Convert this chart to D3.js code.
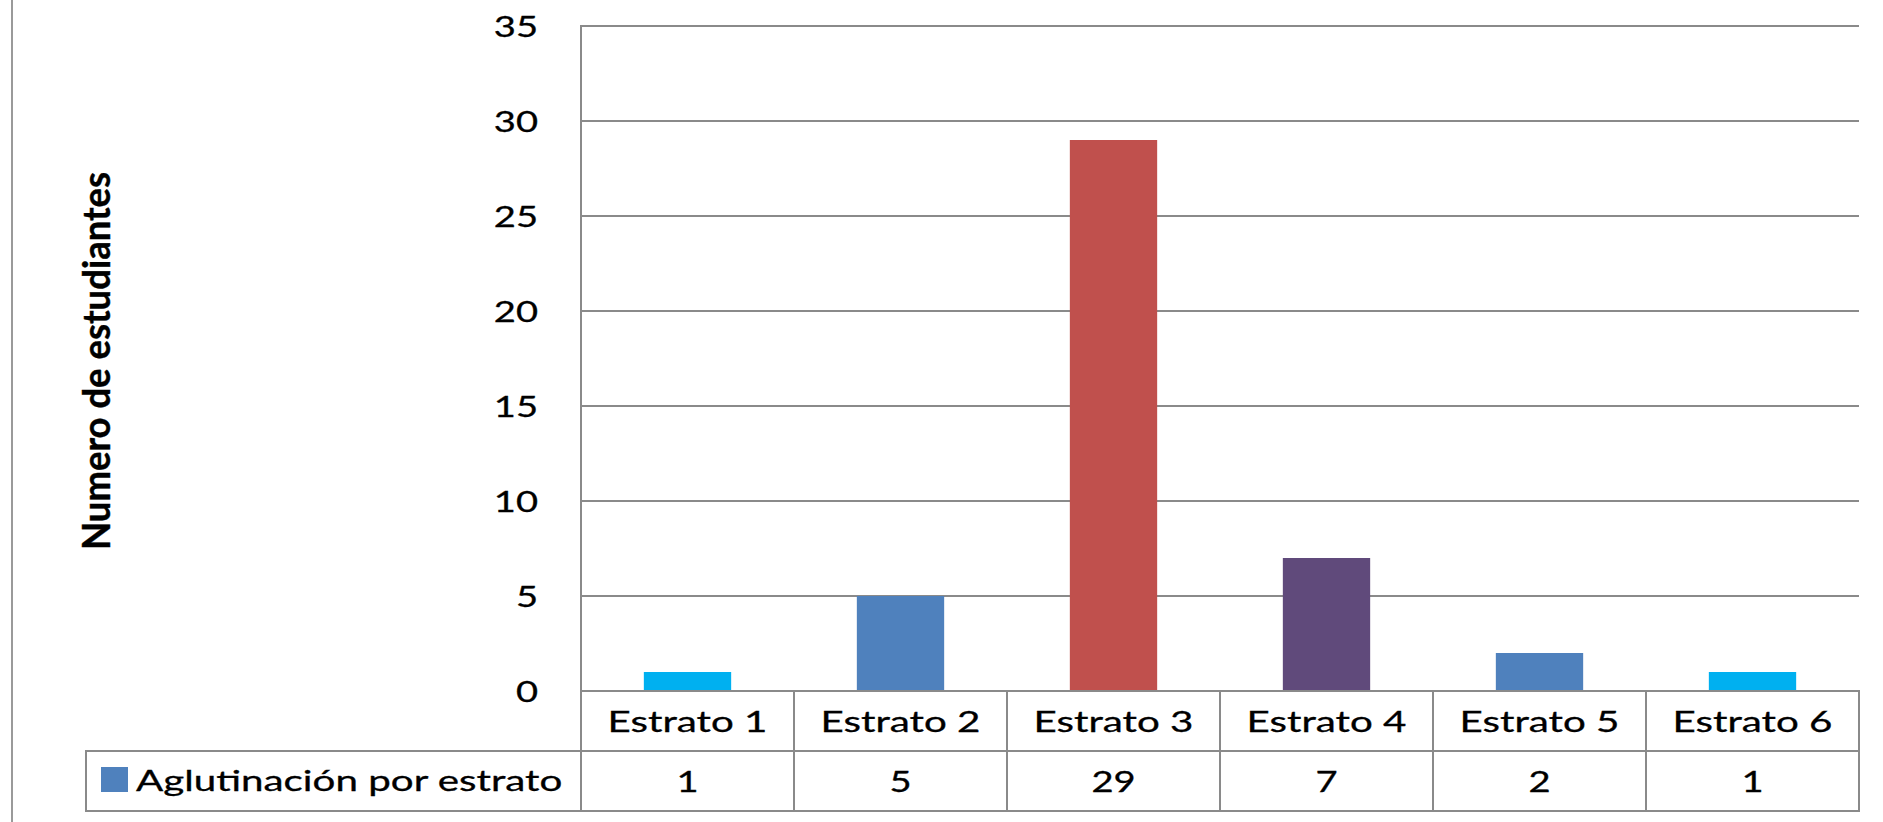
<!DOCTYPE html>
<html>
<head>
<meta charset="utf-8">
<script src="https://cdn.jsdelivr.net/npm/d3@7/dist/d3.min.js"></script>
<style>
  html, body { margin: 0; padding: 0; background: #ffffff; }
  svg { display: block; }
  text { font-family: Lato, "Open Sans", "DejaVu Sans", sans-serif; fill: #000; stroke: #000; stroke-width: 0.3px; }
</style>
</head>
<body>
<svg id="chart" width="1883" height="822"></svg>
<script>
// Students grouped by socio-economic stratum
const categories = ["Estrato 1", "Estrato 2", "Estrato 3", "Estrato 4", "Estrato 5", "Estrato 6"];
const values = [1, 5, 29, 7, 2, 1];
const seriesName = "Aglutinación por estrato";
const yTicks = [0, 5, 10, 15, 20, 25, 30, 35];
const yTitle = "Numero de estudiantes";

// fill per bar
const barColors = ["#00B0F0", "#4F81BD", "#C0504D", "#604A7B", "#4F81BD", "#00B0F0"];
const legendColor = "#4F81BD";

// layout
const plotLeft = 581, plotRight = 1859, plotTop = 26, plotBottom = 691;
const rowH = 60;
const tableLeft = 86;
const gridColor = "#8a8a8a";
const fontSize = 28;
const SX_NUM = 1.36;       // horizontal stretch for numbers
const SX = 1.44;           // horizontal stretch for words
const capHalf = 10;        // half cap height, used to centre text on a line

const svg = d3.select("#chart");

const x = d3.scaleBand().domain(categories).range([plotLeft, plotRight]).paddingInner(0.59).paddingOuter(0.295);
const cells = d3.scaleBand().domain(categories).range([plotLeft, plotRight]).padding(0);
const y = d3.scaleLinear().domain([0, 35]).range([plotBottom, plotTop]);

// outer chart frame (left edge)
svg.append("line")
  .attr("x1", 12).attr("x2", 12).attr("y1", 0).attr("y2", 822)
  .attr("stroke", "#9a9a9a").attr("stroke-width", 2);

// horizontal gridlines
svg.append("g").selectAll("line").data(yTicks.filter(d => d > 0)).join("line")
  .attr("x1", plotLeft).attr("x2", plotRight)
  .attr("y1", d => y(d)).attr("y2", d => y(d))
  .attr("stroke", gridColor).attr("stroke-width", 2);

// bars
svg.append("g").selectAll("rect").data(values).join("rect")
  .attr("x", (d, i) => x(categories[i]))
  .attr("width", x.bandwidth())
  .attr("y", d => y(d))
  .attr("height", d => y(0) - y(d))
  .attr("fill", (d, i) => barColors[i]);

// y axis tick labels
const yAxis = d3.axisLeft(y).tickValues(yTicks).tickSize(0).tickFormat(d3.format("d"));
const ag = svg.append("g").attr("transform", `translate(${plotLeft},0)`).call(yAxis);
ag.select(".domain").remove();
ag.selectAll(".tick text")
  .attr("x", null).attr("dy", null)
  .attr("y", capHalf)
  .attr("transform", `translate(-43,0) scale(${SX_NUM},1)`)
  .attr("text-anchor", "end")
  .attr("font-size", fontSize)
  .attr("font-family", null)
  .attr("fill", "#000");

// axis title
svg.append("text")
  .attr("transform", `translate(110,361) rotate(-90) scale(1,${SX_NUM})`)
  .attr("text-anchor", "middle")
  .attr("font-size", fontSize)
  .attr("font-weight", "bold")
  .attr("textLength", 378)
  .attr("lengthAdjust", "spacingAndGlyphs")
  .text(yTitle);

// data table
const tbl = svg.append("g").attr("stroke", gridColor).attr("stroke-width", 2);
const row1 = plotBottom, row2 = plotBottom + rowH, row3 = plotBottom + 2 * rowH;
tbl.append("line").attr("x1", plotLeft).attr("x2", plotRight).attr("y1", row1).attr("y2", row1);
tbl.append("line").attr("x1", tableLeft).attr("x2", plotRight).attr("y1", row2).attr("y2", row2);
tbl.append("line").attr("x1", tableLeft).attr("x2", plotRight).attr("y1", row3).attr("y2", row3);
tbl.append("line").attr("x1", plotLeft).attr("x2", plotLeft).attr("y1", plotTop - 1).attr("y2", row3 + 1);
tbl.append("line").attr("x1", tableLeft).attr("x2", tableLeft).attr("y1", row2 - 1).attr("y2", row3 + 1);
tbl.selectAll(".div").data(categories).join("line")
  .attr("x1", d => cells(d) + cells.bandwidth()).attr("x2", d => cells(d) + cells.bandwidth())
  .attr("y1", row1 - 1).attr("y2", row3 + 1);

// category labels
svg.append("g").selectAll("text").data(categories).join("text")
  .attr("transform", d => `translate(${cells(d) + cells.bandwidth() / 2},${(row1 + row2) / 2 + capHalf + 1}) scale(${SX},1)`)
  .attr("text-anchor", "middle")
  .attr("font-size", fontSize)
  .text(d => d);

// value row
svg.append("g").selectAll("text").data(values).join("text")
  .attr("transform", (d, i) => `translate(${cells(categories[i]) + cells.bandwidth() / 2},${(row2 + row3) / 2 + capHalf + 1}) scale(${SX_NUM},1)`)
  .attr("text-anchor", "middle")
  .attr("font-size", fontSize)
  .text(d => d);

// legend key and series name
svg.append("rect")
  .attr("x", 101).attr("y", 767).attr("width", 27).attr("height", 25)
  .attr("fill", legendColor);
svg.append("text")
  .attr("transform", `translate(136,${(row2 + row3) / 2 + capHalf}) scale(${SX},1)`)
  .attr("font-size", fontSize)
  .text(seriesName);
</script>
</body>
</html>
